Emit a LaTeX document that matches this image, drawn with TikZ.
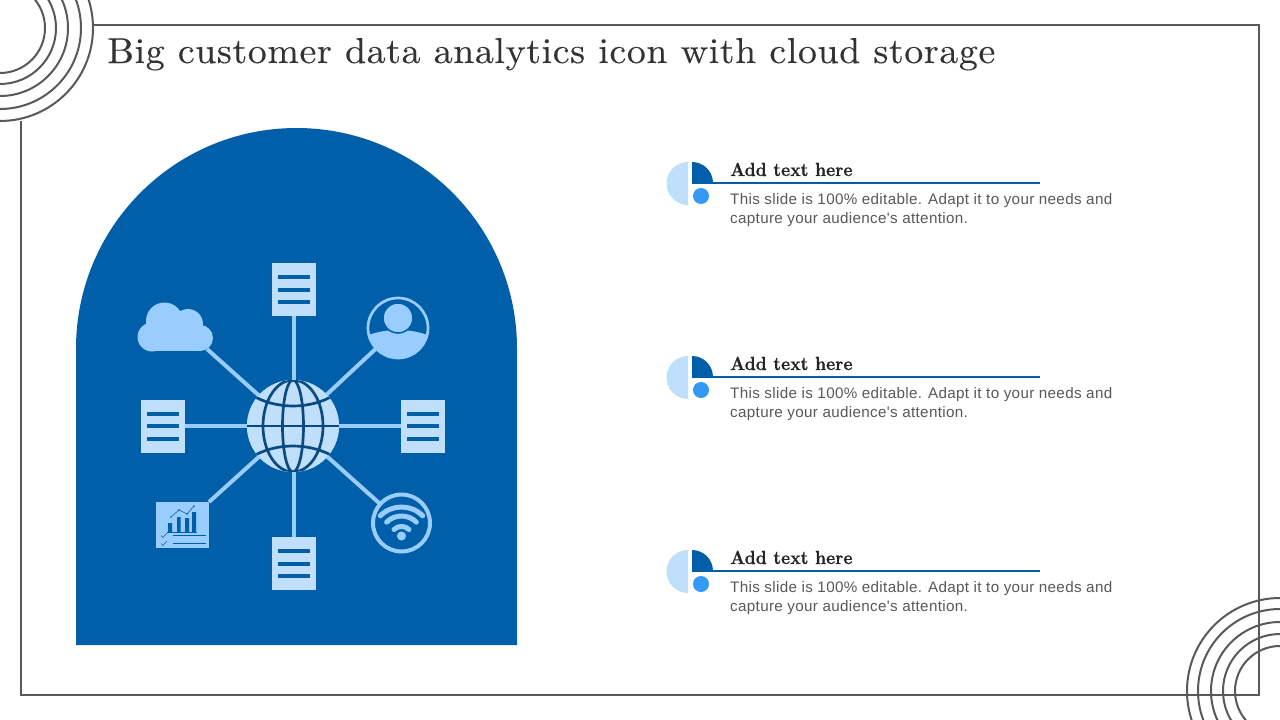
\documentclass[tikz,border=0pt]{standalone}
\usepackage{fontspec}
\newfontfamily\bodyfont{Liberation Sans}
\newfontfamily\titlefont[Extension=.otf,FakeStretch=1.05,FakeBold=0.25,LetterSpace=1.8]{lmroman10-regular}
\newfontfamily\headfont[Extension=.otf,FakeStretch=0.91,FakeBold=0.4]{lmroman10-bold}
\definecolor{archblue}{HTML}{005FA8}
\definecolor{pale}{HTML}{BFDFFB}
\definecolor{mid}{HTML}{99CCFF}
\definecolor{dot}{HTML}{3399F3}
\definecolor{globeline}{HTML}{0B4A80}
\definecolor{framegray}{HTML}{595959}
\definecolor{bodygray}{HTML}{595959}
\definecolor{headgray}{HTML}{262626}
\definecolor{titlegray}{HTML}{333333}
\tikzset{
  ringline/.style={draw=framegray,line width=2pt},
  frameline/.style={draw=framegray,line width=2pt},
  docbox/.style={rectangle,fill=pale,minimum width=44pt,minimum height=53pt,inner sep=0pt,outer sep=0pt},
  docline/.style={draw=archblue,line width=4pt},
  linkline/.style={draw=mid,line width=4pt},
  globeback/.style={circle,fill=pale,minimum size=92pt,inner sep=0pt,outer sep=0pt},
  meridian/.style={draw=globeline,line width=2.7pt},
  titletext/.style={anchor=base west,inner sep=0pt,text=titlegray,font=\titlefont\fontsize{36}{40}\selectfont},
  headtext/.style={anchor=base west,inner sep=0pt,text=headgray,font=\headfont\fontsize{19}{22}\selectfont},
  bodytext/.style={anchor=north west,inner sep=0pt,align=left,text=bodygray,font=\bodyfont\fontsize{15.2}{19.4}\selectfont\addfontfeature{LetterSpace=2.2}},
}
\newcommand{\docicon}[3]{%
  \node[docbox] (#1) at (#2,#3) {};
  \foreach \dy in {-12.5,0,12.5}
    \draw[docline] ([xshift=-16pt,yshift=\dy pt]#1.center) -- ([xshift=16pt,yshift=\dy pt]#1.center);
}
\begin{document}
\begin{tikzpicture}[x=1pt,y=-1pt]
\useasboundingbox (0,0) rectangle (1280,720);
\fill[white] (0,0) rectangle (1280,720);

% frame
\draw[frameline] (93,25) -- (1259,25) -- (1259,695) -- (1187,695);
\draw[frameline] (1187,695) -- (21,695) -- (21,121);

% rings
\begin{scope}
\clip (0,0) rectangle (1280,720);
\foreach \r in {45,56,68,81,93} \draw[ringline,fill=none] (0,28) circle[radius=\r pt];
\foreach \r in {45,57,69,82,93} \draw[ringline,fill=none] (1280,691) circle[radius=\r pt];
\end{scope}

% title
\node[titletext] (title) at (107,63) {Big customer data analytics icon with cloud storage};

% arch
\fill[archblue] (76,645) -- (76,348.5) arc[start angle=180,end angle=0,radius=220.5pt] -- (517,645) -- cycle;

% icon anchors
\node[globeback] (globe) at (293,426) {};
\node[circle,minimum size=60pt,inner sep=0pt,outer sep=0pt] (user) at (398,328) {};
\node[circle,minimum size=58pt,inner sep=0pt,outer sep=0pt] (wifi) at (401.5,523) {};
\node[rectangle,fill=mid,minimum width=53pt,minimum height=46pt,inner sep=0pt,outer sep=0pt] (chart) at (182.5,525) {};
\coordinate (cloudend) at (207,349);
\docicon{doctop}{294}{289.5}
\docicon{docleft}{163}{426}
\docicon{docright}{423}{426}
\docicon{docbottom}{294}{563.5}

% connectors
\draw[linkline] (doctop.south) -- (doctop.south |- globe.north);
\draw[linkline] (docbottom.north) -- (docbottom.north |- globe.south);
\draw[linkline] (docleft.east) -- (globe.west);
\draw[linkline] (docright.west) -- (globe.east);
\draw[linkline] (cloudend) -- (globe);
\draw[linkline] (user) -- (globe);
\draw[linkline] (wifi) -- (globe);
\draw[linkline] (chart.north east) -- (globe);

% globe on top
\node[globeback] at (293,426) {};
\begin{scope}
\clip (293,426) circle[radius=46pt];
\draw[meridian] (293,426) ellipse[x radius=10.5pt,y radius=46pt];
\draw[meridian] (293,426) ellipse[x radius=30pt,y radius=46pt];
\draw[meridian] (247,426) -- (339,426);
\draw[meridian] (250,394) .. controls (275,410) and (311,410) .. (336,394);
\draw[meridian] (250,458) .. controls (275,442) and (311,442) .. (336,458);
\end{scope}

% cloud
\fill[mid] (152,337) circle[radius=14.5pt] (164.5,321) circle[radius=18.5pt] (188,324) circle[radius=15pt] (200,338) circle[radius=13pt];
\fill[mid] (152,325) rectangle (200,351);
\fill[mid] (150,330) rectangle (203,340);

% user
\draw[mid,line width=2.7pt] (user) circle[radius=30pt];
\begin{scope}
\clip (398,328) circle[radius=30pt];
\fill[mid] (398,352) ellipse[x radius=46pt,y radius=22pt];
\fill[mid] (360,352) rectangle (436,360);
\end{scope}
\fill[mid,draw=archblue,line width=1.5pt] (398,318) circle[radius=15pt];

% wifi
\draw[mid,line width=4pt] (wifi) circle[radius=28.5pt];
\fill[mid] (401.5,536) circle[radius=4.5pt];
\foreach \r in {10.6,21,30}
  \draw[mid,line width=5pt,line cap=round] (401.5,537) ++(135:\r pt) arc[start angle=135,end angle=45,radius=\r pt];

% chart
\fill[archblue] (168,523) rectangle (172,532) (177,517) rectangle (180.5,532) (185,518) rectangle (189,532) (192,512) rectangle (196,532);
\draw[archblue,line width=.7pt] (167,532.5) -- (197,532.5);
\draw[archblue,line width=.6pt] (171,517) -- (179,510) -- (187,514) -- (194,506);
\fill[archblue] (171,517) circle[radius=.9pt] (179,510) circle[radius=.9pt] (187,514) circle[radius=.9pt] (194,506) circle[radius=.9pt];
\draw[archblue,line width=1pt] (173,535) -- (206,535) (173,543) -- (206,543);
\draw[archblue,line width=.5pt] (161,535.5) -- (163,537.5) -- (167,533) (161,543.5) -- (163,545.5) -- (167,541);

% legend rows
\foreach \i/\off in {1/0,2/194,3/388} {
  \begin{scope}[yshift=-\off pt]
    \fill[pale] (688,162) arc[start angle=90,end angle=270,radius=21.5pt] -- cycle;
    \fill[archblue] (692,183) -- (692,162) arc[start angle=90,end angle=0,radius=21pt] -- cycle;
    \fill[dot] (701,196) circle[radius=8pt];
    \draw[archblue,line width=2pt] (692,183) -- (1040,183);
    \node[headtext] (head\i) at (730,176) {Add text here};
    \node[bodytext] (body\i) at (730,193) {This slide is 100\% editable. Adapt it to your needs and\\capture your audience's attention.};
  \end{scope}
}
\end{tikzpicture}
\end{document}
